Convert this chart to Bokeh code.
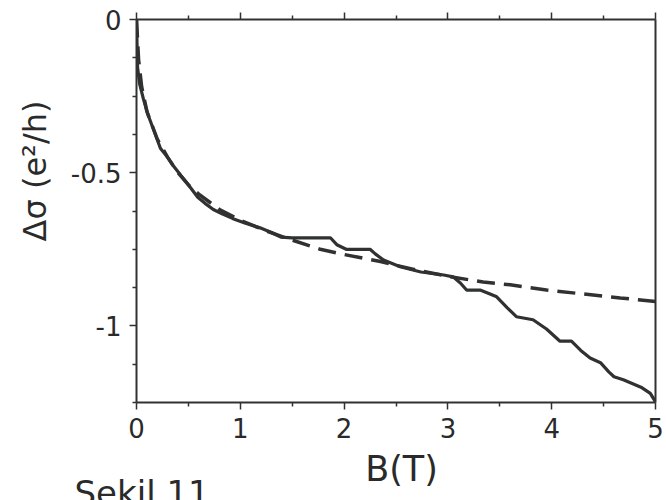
from bokeh.plotting import figure
from bokeh.models import FixedTicker, LinearAxis, Title, Range1d
from bokeh.embed import file_html
from bokeh.resources import INLINE

# measured curve
B_meas = [0, 0.005, 0.01, 0.03, 0.067, 0.11, 0.154, 0.23, 0.30, 0.36, 0.43, 0.49,
          0.59, 0.66, 0.74, 0.83, 0.93, 1.05, 1.19, 1.30, 1.39, 1.50, 1.70, 1.87,
          1.93, 2.02, 2.25, 2.30, 2.38, 2.54, 2.74, 2.96, 3.05, 3.12, 3.18, 3.31,
          3.40, 3.47, 3.57, 3.66, 3.82, 3.95, 4.08, 4.19, 4.28, 4.37, 4.47, 4.55,
          4.60, 4.69, 4.86, 4.95, 5.0]
dsigma_meas = [0, -0.08, -0.155, -0.21, -0.26, -0.31, -0.35, -0.42, -0.45, -0.48, -0.51, -0.535,
               -0.58, -0.60, -0.62, -0.635, -0.65, -0.665, -0.68, -0.695, -0.71, -0.713, -0.713, -0.713,
               -0.735, -0.75, -0.75, -0.765, -0.785, -0.807, -0.824, -0.834, -0.84, -0.86, -0.883, -0.883,
               -0.895, -0.905, -0.94, -0.97, -0.98, -1.01, -1.05, -1.05, -1.08, -1.105, -1.12, -1.15,
               -1.166, -1.176, -1.20, -1.22, -1.248]

# fit curve (dashed)
B_fit = [0, 0.02, 0.05, 0.1, 0.2, 0.3, 0.4, 0.5, 0.6, 0.8, 1.0, 1.25, 1.5, 1.77, 2.0,
         2.35, 2.7, 3.0, 3.34, 3.6, 3.95, 4.31, 4.66, 5.0]
dsigma_fit = [0, -0.13, -0.22, -0.30, -0.39, -0.45, -0.50, -0.54, -0.57, -0.62, -0.655, -0.69,
              -0.72, -0.75, -0.767, -0.79, -0.818, -0.838, -0.857, -0.866, -0.883, -0.896, -0.909, -0.92]

x_ticks = [0, 1, 2, 3, 4, 5]
x_minor = [0.5, 1.5, 2.5, 3.5, 4.5]
y_ticks = [-1.0, -0.5, 0.0]
y_tick_labels = {-1.0: "-1", -0.5: "-0.5", 0.0: "0"}
y_minor = [-1.25, -1.125, -0.875, -0.75, -0.625, -0.375, -0.25, -0.125]

x_label = "\u00a0B(T)"
y_label = "\u2003\u2003\u2002Δσ (e²/h)"
caption = "Şekil 11"

FONT = "DejaVu Sans"
INK = "#303232"
TXT = "#2a2a2a"

p = figure(width=666, height=500, output_backend="svg", toolbar_location=None,
           x_range=Range1d(0, 5), y_range=Range1d(-1.25, 0),
           min_border_left=136, min_border_right=11, min_border_top=19, min_border_bottom=98,
           background_fill_color="white", border_fill_color="white", outline_line_color=None)
p.grid.visible = False

p.line(B_fit, dsigma_fit, line_color=INK, line_width=3.5, line_dash="18 9")
p.line(B_meas, dsigma_meas, line_color=INK, line_width=3.2)

def style(ax, labels=True):
    ax.axis_line_color = INK
    ax.axis_line_width = 2
    ax.major_tick_line_color = INK
    ax.minor_tick_line_color = INK
    ax.major_tick_line_width = 1.5
    ax.minor_tick_line_width = 1.5
    ax.major_tick_out = 7
    ax.major_tick_in = 0
    ax.minor_tick_out = 4
    ax.minor_tick_in = 0
    ax.major_label_text_font = FONT
    ax.major_label_text_color = TXT
    ax.major_label_text_font_size = "26px"
    if not labels:
        ax.major_label_text_font_size = "0px"
        ax.major_label_standoff = 0

xa = p.xaxis[0]
xa.ticker = FixedTicker(ticks=x_ticks, minor_ticks=x_minor)
style(xa)
xa.major_label_standoff = 8
xa.axis_label = x_label
xa.axis_label_text_font = FONT
xa.axis_label_text_font_size = "35px"
xa.axis_label_text_font_style = "normal"
xa.axis_label_text_color = TXT
xa.axis_label_standoff = 8

ya = p.yaxis[0]
ya.ticker = FixedTicker(ticks=y_ticks, minor_ticks=y_minor)
ya.major_label_overrides = y_tick_labels
style(ya)
ya.major_label_standoff = 8
ya.axis_label = y_label
ya.axis_label_text_font = FONT
ya.axis_label_text_font_size = "32px"
ya.axis_label_text_font_style = "normal"
ya.axis_label_text_color = TXT
ya.axis_label_standoff = 14

top = LinearAxis(ticker=FixedTicker(ticks=x_ticks, minor_ticks=x_minor))
style(top, labels=False)
p.add_layout(top, "above")
right = LinearAxis(ticker=FixedTicker(ticks=y_ticks, minor_ticks=y_minor))
style(right, labels=False)
right.major_tick_out = 0
right.minor_tick_out = 0
p.add_layout(right, "right")

cap = Title(text=caption, align="left", offset=-62, standoff=-38, vertical_align="top",
            text_font=FONT, text_font_size="34px", text_font_style="normal", text_color=TXT)
p.add_layout(cap, "below")

open("out.html", "w").write(file_html(p, INLINE))
